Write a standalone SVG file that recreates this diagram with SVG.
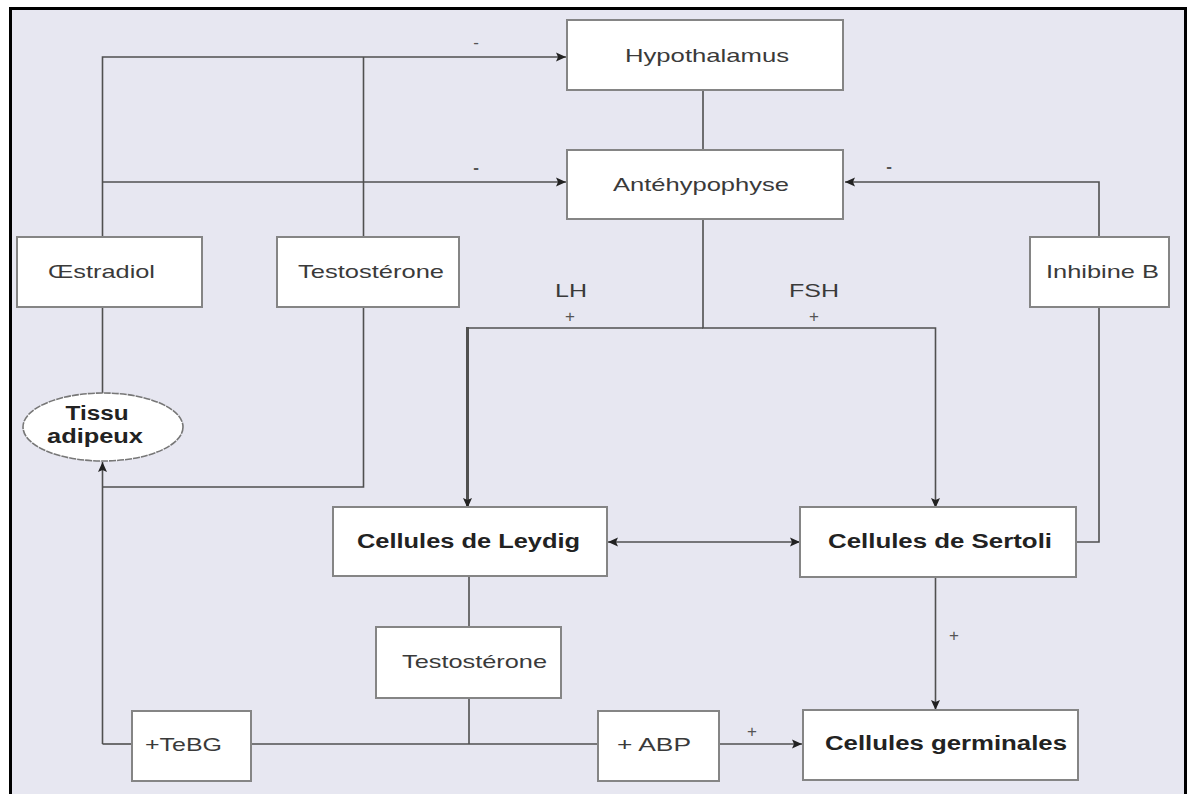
<svg xmlns="http://www.w3.org/2000/svg" width="1188" height="794" viewBox="0 0 1188 794">
<style>
.box{fill:#fff;stroke:#858585;stroke-width:2}
.ln{fill:none;stroke:#505050;stroke-width:1.6}
.thk{fill:none;stroke:#505050;stroke-width:3}
.t{font-family:"Liberation Sans",Arial,sans-serif;font-size:19px;fill:#3a3a3a}
.b{font-family:"Liberation Sans",Arial,sans-serif;font-size:20px;font-weight:bold;fill:#222}
.s{font-family:"Liberation Sans",Arial,sans-serif;font-size:17px;fill:#555;text-anchor:middle}
</style>
<defs>
<marker id="ah" viewBox="0 0 10 10" refX="10" refY="5" markerWidth="10" markerHeight="10" markerUnits="userSpaceOnUse" orient="auto-start-reverse">
<path d="M0,0.5 L10,5 L0,9.5 L2,5 Z" fill="#222"/>
</marker>
</defs>
<rect x="0" y="0" width="1188" height="794" fill="#fff"/>
<rect x="10.5" y="8.5" width="1175" height="800" fill="#e7e7f1" stroke="#000" stroke-width="3"/>

<g id="connectors">
<path class="ln" d="M102.5,237 V57 H566" marker-end="url(#ah)"/>
<path class="ln" d="M363.5,237 V57"/>
<path class="ln" d="M102.5,182 H566" marker-end="url(#ah)"/>
<path class="ln" d="M102.5,307 V393"/>
<path class="ln" d="M363.5,307 V487 H102.5"/>
<path class="ln" d="M102.5,744 V462" marker-end="url(#ah)"/>
<path class="ln" d="M703,90 V150"/>
<path class="ln" d="M703,219 V328 H935.5 V508" marker-end="url(#ah)"/>
<path class="ln" d="M703,328 H467.5"/>
<path class="thk" d="M467.5,327 V508" marker-end="url(#ah)"/>
<path class="ln" d="M608,542 H800" marker-start="url(#ah)" marker-end="url(#ah)"/>
<path class="ln" d="M1076,542 H1099 V307"/>
<path class="ln" d="M1099,237 V182 H845" marker-end="url(#ah)"/>
<path class="ln" d="M935.5,577 V710" marker-end="url(#ah)"/>
<path class="ln" d="M469,576 V627"/>
<path class="ln" d="M469,698 V744"/>
<path class="ln" d="M102.5,744 H132"/>
<path class="ln" d="M251,744 H598"/>
<path class="ln" d="M719,744 H802" marker-end="url(#ah)"/>
<text class="s" x="476" y="48">-</text>
<text class="s" x="476" y="173" font-weight="bold">-</text>
<text class="s" x="889" y="172" font-weight="bold">-</text>
<text class="t" x="571" y="297" text-anchor="middle" textLength="32" lengthAdjust="spacingAndGlyphs">LH</text>
<text class="s" x="570" y="322">+</text>
<text class="t" x="814" y="297" text-anchor="middle" textLength="50" lengthAdjust="spacingAndGlyphs">FSH</text>
<text class="s" x="814" y="322">+</text>
<text class="s" x="954" y="641">+</text>
<text class="s" x="752" y="737">+</text>
</g>

<g id="hypothalamus">
<rect class="box" x="567" y="20" width="276" height="70"/>
<text class="t" x="625" y="62" textLength="164" lengthAdjust="spacingAndGlyphs">Hypothalamus</text>
</g>
<g id="antehypophyse">
<rect class="box" x="567" y="150" width="276" height="69"/>
<text class="t" x="613" y="191" textLength="176" lengthAdjust="spacingAndGlyphs">Antéhypophyse</text>
</g>
<g id="oestradiol">
<rect class="box" x="17" y="237" width="185" height="70"/>
<text class="t" x="48" y="278" textLength="107" lengthAdjust="spacingAndGlyphs">Œstradiol</text>
</g>
<g id="testosterone1">
<rect class="box" x="277" y="237" width="182" height="70"/>
<text class="t" x="298" y="278" textLength="146" lengthAdjust="spacingAndGlyphs">Testostérone</text>
</g>
<g id="inhibine">
<rect class="box" x="1030" y="237" width="139" height="70"/>
<text class="t" x="1046" y="278" textLength="113" lengthAdjust="spacingAndGlyphs">Inhibine B</text>
</g>
<g id="tissu">
<ellipse cx="103" cy="427" rx="80" ry="34" fill="#fff" stroke="#777" stroke-width="1.6" stroke-dasharray="7 1"/>
<text class="b" x="97" y="420" text-anchor="middle" textLength="63" lengthAdjust="spacingAndGlyphs">Tissu</text>
<text class="b" x="95" y="443" text-anchor="middle" textLength="96" lengthAdjust="spacingAndGlyphs">adipeux</text>
</g>
<g id="leydig">
<rect class="box" x="333" y="507" width="274" height="69"/>
<text class="b" x="357" y="548" textLength="223" lengthAdjust="spacingAndGlyphs">Cellules de Leydig</text>
</g>
<g id="sertoli">
<rect class="box" x="800" y="507" width="276" height="70"/>
<text class="b" x="828" y="548" textLength="224" lengthAdjust="spacingAndGlyphs">Cellules de Sertoli</text>
</g>
<g id="testosterone2">
<rect class="box" x="376" y="627" width="185" height="71"/>
<text class="t" x="402" y="668" textLength="145" lengthAdjust="spacingAndGlyphs">Testostérone</text>
</g>
<g id="tebg">
<rect class="box" x="132" y="711" width="119" height="70"/>
<text class="t" x="145" y="751" textLength="77" lengthAdjust="spacingAndGlyphs">+TeBG</text>
</g>
<g id="abp">
<rect class="box" x="598" y="711" width="121" height="70"/>
<text class="t" x="617" y="751" textLength="74" lengthAdjust="spacingAndGlyphs">+ ABP</text>
</g>
<g id="germinales">
<rect class="box" x="803" y="710" width="275" height="70"/>
<text class="b" x="825" y="750" textLength="242" lengthAdjust="spacingAndGlyphs">Cellules germinales</text>
</g>
</svg>
